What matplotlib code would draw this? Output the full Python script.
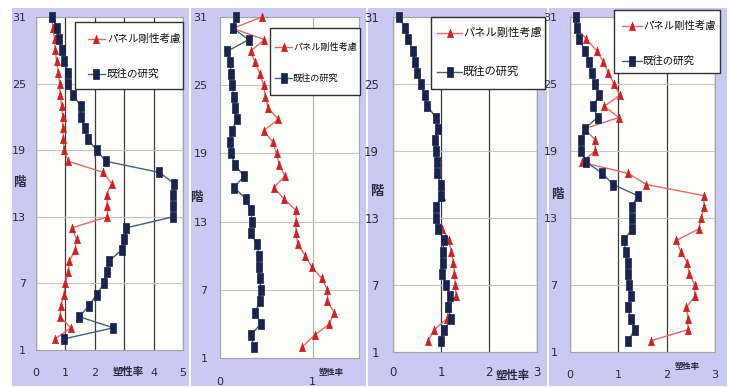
import matplotlib.pyplot as plt
from matplotlib.patches import Rectangle
from matplotlib.lines import Line2D

W, H = 729, 387

# floors 31 down to 2
floors = list(range(31, 1, -1))

label_red = "パネル剛性考慮"
label_blue = "既往の研究"

p1_red = [0.53, 0.58, 0.63, 0.66, 0.70, 0.76, 0.80, 0.82, 0.87, 0.91,
          0.91, 0.93, 0.95, 1.10, 2.29, 2.57, 2.40, 2.43, 2.43, 1.21,
          1.38, 1.33, 1.13, 1.10, 0.99, 0.95, 0.85, 0.82, 1.18, 0.65]
p1_blue = [0.53, 0.73, 0.78, 0.90, 0.95, 1.10, 1.10, 1.25, 1.52, 1.52,
           1.67, 1.76, 2.06, 2.38, 4.19, 4.70, 4.67, 4.65, 4.67, 3.06,
           2.99, 2.91, 2.48, 2.40, 2.31, 2.06, 1.81, 1.47, 2.63, 0.95]

p2_red = [0.45, 0.14, 0.48, 0.33, 0.38, 0.43, 0.47, 0.49, 0.52, 0.63,
          0.47, 0.57, 0.61, 0.64, 0.70, 0.58, 0.69, 0.82, 0.82, 0.82,
          0.84, 0.92, 0.99, 1.10, 1.16, 1.16, 1.23, 1.18, 1.02, 0.89]
p2_blue = [0.17, 0.14, 0.31, 0.08, 0.11, 0.12, 0.13, 0.15, 0.16, 0.18,
           0.13, 0.11, 0.12, 0.16, 0.26, 0.15, 0.28, 0.33, 0.35, 0.33,
           0.40, 0.42, 0.42, 0.43, 0.44, 0.43, 0.38, 0.44, 0.33, 0.37]

p3_red = [0.13, 0.25, 0.32, 0.41, 0.46, 0.51, 0.59, 0.66, 0.71, 0.90,
          0.93, 0.88, 0.90, 0.92, 0.92, 0.99, 1.03, 0.89, 0.89, 1.03,
          1.17, 1.21, 1.26, 1.28, 1.30, 1.31, 1.15, 1.13, 0.86, 0.73]
p3_blue = [0.13, 0.25, 0.32, 0.41, 0.46, 0.51, 0.59, 0.66, 0.71, 0.90,
           0.93, 0.88, 0.90, 0.92, 0.92, 0.99, 1.01, 0.89, 0.89, 0.93,
           1.07, 1.04, 1.05, 1.03, 1.10, 1.19, 1.14, 1.21, 1.07, 0.99]

p4_red = [0.12, 0.14, 0.34, 0.55, 0.69, 0.79, 0.91, 1.03, 0.71, 1.01,
          0.30, 0.52, 0.52, 0.24, 1.20, 1.58, 2.77, 2.77, 2.72, 2.66,
          2.20, 2.29, 2.43, 2.47, 2.58, 2.58, 2.41, 2.44, 2.44, 1.67]
p4_blue = [0.12, 0.14, 0.19, 0.31, 0.39, 0.45, 0.52, 0.60, 0.48, 0.57,
           0.30, 0.23, 0.23, 0.34, 0.67, 0.89, 1.40, 1.28, 1.28, 1.28,
           1.12, 1.15, 1.19, 1.20, 1.22, 1.27, 1.19, 1.26, 1.34, 1.20]

y_ticks = [1, 7, 13, 19, 25, 31]

LAV = '#c9c9f3'
TXT = '#2a2a40'
RED_STYLE = dict(color='#e46a6a', lw=1.0, marker=[(0, 0.5), (-0.36, -0.5), (0.36, -0.5), (0, 0.5)],
                 markersize=6, markerfacecolor='#d21f1f', markeredgecolor='#d21f1f',
                 markeredgewidth=0.5)
BLUE_STYLE = dict(color='#3d6470', lw=1.0,
                  marker=[(-0.32, -0.5), (0.32, -0.5), (0.32, 0.5), (-0.32, 0.5), (-0.32, -0.5)],
                  markersize=6.5, markerfacecolor='#16244e', markeredgecolor='#16244e',
                  markeredgewidth=0.5)
CJK = ['Noto Sans CJK JP', 'DejaVu Sans']


def fx(x):
    return x / W


def fy(y):
    return 1 - y / H


def add_ax(left, top, right, bottom):
    return fig.add_axes([fx(left), fy(bottom), (right - left) / W, (bottom - top) / H])


def draw_legend(box, rows, sample, text_x, fs):
    l, t, r, b = box
    fig.add_artist(Rectangle((fx(l), fy(b)), (r - l) / W, (b - t) / H,
                             transform=fig.transFigure, facecolor='white',
                             edgecolor='#303030', lw=1.0, zorder=5))
    for y, style, label in zip(rows, [RED_STYLE, BLUE_STYLE], [label_red, label_blue]):
        xs = [fx(sample[0]), fx((sample[0] + sample[1]) / 2), fx(sample[1])]
        ln = Line2D(xs, [fy(y)] * 3, transform=fig.transFigure, zorder=6,
                    markevery=[1], **style)
        fig.add_artist(ln)
        fig.text(fx(text_x), fy(y), label, family=CJK, fontsize=fs, color='#111111',
                 ha='left', va='center', zorder=7)


fig = plt.figure(figsize=(W / 100, H / 100), dpi=100)
fig.patch.set_facecolor('white')

# lavender panel backgrounds
for l, r in [(12, 189), (191, 366), (368, 547), (549, 727)]:
    fig.add_artist(Rectangle((fx(l), fy(386)), (r - l) / W, (386 - 8) / H,
                             transform=fig.transFigure, facecolor=LAV,
                             edgecolor='none', zorder=0))

panels = [
    dict(box=(36, 17, 183, 350), xmax=5, xticks=[0, 1, 2, 3, 4, 5],
         xlabels=['0', '1', '2', '', '4', '5'],
         red=p1_red, blue=p1_blue, vg='#3a3a3a', fs=8, ypad=7, xpad=13,
         leg=((75, 22, 183, 89), (39, 74), (88, 105), 107, 7.6),
         kai=(19, 182, 9), sos=(128, 372, 7.5)),
    dict(box=(220, 17, 359, 358), xmax=1.5, xticks=[0, 1], xlabels=['0', '1'],
         red=p2_red, blue=p2_blue, vg='#a9b8a9', fs=8, ypad=9, xpad=14,
         leg=((270, 28, 360, 95), (47, 78), (275, 292), 293, 6.6),
         kai=(196, 197, 9), sos=(331, 373, 6)),
    dict(box=(393, 17, 537, 352), xmax=3, xticks=[0, 1, 2, 3],
         xlabels=['0', '1', '2', '3'],
         red=p3_red, blue=p3_blue, vg='#3a3a3a', fs=8.5, ypad=10, xpad=10,
         leg=((431, 17, 545, 89), (33, 72), (437, 462), 463, 8.1),
         kai=(377, 191, 9.5), sos=(513, 375, 8.2)),
    dict(box=(570, 17, 715, 352), xmax=3, xticks=[0, 1, 2, 3],
         xlabels=['0', '1', '2', '3'],
         red=p4_red, blue=p4_blue, vg='#3a3a3a', fs=8, ypad=9, xpad=13,
         leg=((614, 10, 720, 73), (26, 61), (622, 642), 643, 7.5),
         kai=(557, 194, 9), sos=(687, 367, 6)),
]

for p in panels:
    ax = add_ax(*p['box'])
    ax.set_facecolor('#fffffb')
    ax.set_xlim(0, p['xmax'])
    ax.set_ylim(1, 31)
    ax.set_yticks(y_ticks)
    ax.set_xticks(p['xticks'])
    ax.set_xticklabels(p['xlabels'])
    ax.grid(axis='y', color='#c6c6c6', lw=0.8, zorder=1)
    ax.grid(axis='x', color=p['vg'], lw=0.9, zorder=1)
    ax.set_axisbelow(True)
    ax.tick_params(length=0, labelsize=p['fs'], labelcolor=TXT)
    ax.tick_params(axis='y', pad=p['ypad'])
    ax.tick_params(axis='x', pad=p['xpad'])
    for s in ax.spines.values():
        s.set_color('#a4a4a4')
        s.set_linewidth(0.8)

    ax.plot(p['red'], floors, label=label_red, zorder=3, clip_on=False, **RED_STYLE)
    ax.plot(p['blue'], floors, label=label_blue, zorder=4, clip_on=False, **BLUE_STYLE)

    draw_legend(*p['leg'])

    kx, ky, kfs = p['kai']
    fig.text(fx(kx), fy(ky), "階", family=CJK, fontsize=kfs, weight='bold',
             color=TXT, ha='center', va='center')
    sx, sy, sfs = p['sos']
    fig.text(fx(sx), fy(sy), "塑性率", family=CJK, fontsize=sfs, weight='bold',
             color=TXT, ha='center', va='center', zorder=5)

fig.savefig('out.png', dpi=100)
